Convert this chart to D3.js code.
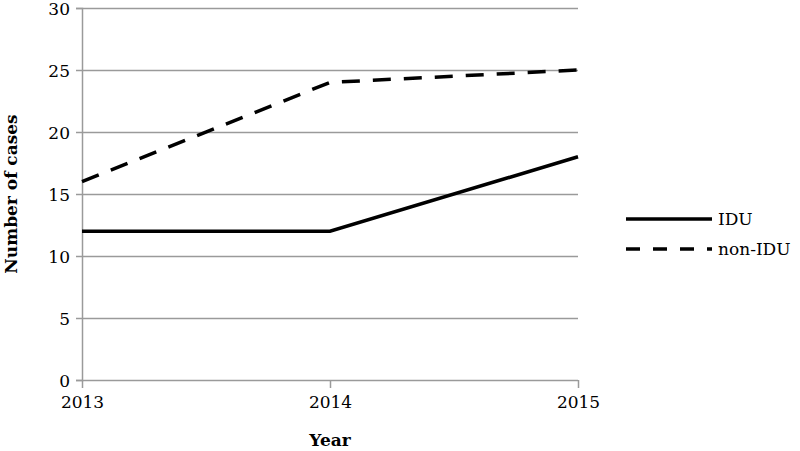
<!DOCTYPE html>
<html>
<head>
<meta charset="utf-8">
<script src="https://cdn.jsdelivr.net/npm/d3@7"></script>
<style>
  body { margin: 0; background: #fff; }
  svg { display: block; font-family: "DejaVu Serif", "DejaVu Serif Book", "Liberation Serif", "Times New Roman", Tinos, "Noto Serif", Georgia, serif; }
</style>
</head>
<body>
<div id="chart"></div>
<script>
var years = [2013, 2014, 2015];
var idu = [12, 12, 18];
var nonIdu = [16, 24, 25];
var yTicks = [0, 5, 10, 15, 20, 25, 30];

var width = 800, height = 451;
var margin = { top: 8, right: 222, bottom: 71, left: 82 };
var w = width - margin.left - margin.right,
  h = height - margin.top - margin.bottom;
var serif = '"DejaVu Serif", "DejaVu Serif Book", "Liberation Serif", "Times New Roman", Tinos, "Noto Serif", Georgia, serif';

var svg = d3
  .select("#chart")
  .append("svg")
  .attr("width", width)
  .attr("height", height);

var g = svg.append("g").attr("transform", `translate(${margin.left},${margin.top})`);

var x = d3.scaleLinear().domain([2013, 2015]).range([0, w]);
var y = d3.scaleLinear().domain([0, 30]).range([h, 0]);

var gridColor = "#9a9a9a";

// gridlines + y axis
var yAxis = g
  .append("g")
  .call(d3.axisLeft(y).tickValues(yTicks).tickSize(6).tickPadding(6));
yAxis.attr("font-family", serif).attr("font-size", 17);
yAxis.select(".domain").attr("stroke", gridColor).attr("stroke-width", 1.5);
yAxis.selectAll(".tick line").attr("stroke", gridColor).attr("stroke-width", 1.5);
yAxis.selectAll(".tick text").attr("fill", "#000").attr("dy", "0.36em");
yAxis
  .selectAll(".tick")
  .append("line")
  .attr("x2", w)
  .attr("stroke", gridColor)
  .attr("stroke-width", 1.5);

var xAxis = g
  .append("g")
  .attr("transform", `translate(0,${h})`)
  .call(d3.axisBottom(x).tickValues(years).tickFormat(d3.format("d")).tickSize(8).tickPadding(8));
xAxis.attr("font-family", serif).attr("font-size", 17);
xAxis.select(".domain").remove();
xAxis.selectAll(".tick line").attr("stroke", gridColor).attr("stroke-width", 1.5);
xAxis.selectAll(".tick text").attr("fill", "#000");

var line = d3
  .line()
  .x((d, i) => x(years[i]))
  .y((d) => y(d));

g.append("path")
  .attr("d", line(idu))
  .attr("fill", "none")
  .attr("stroke", "#000")
  .attr("stroke-width", 3.5);

g.append("path")
  .attr("d", line(nonIdu))
  .attr("fill", "none")
  .attr("stroke", "#000")
  .attr("stroke-width", 3.5)
  .attr("stroke-dasharray", "18,13");

// axis titles
svg
  .append("text")
  .attr("transform", `translate(17,${margin.top + h / 2}) rotate(-90)`)
  .attr("text-anchor", "middle")
  .attr("font-size", 17)
  .attr("font-weight", "bold")
  .text("Number of cases");

svg
  .append("text")
  .attr("x", margin.left + w / 2)
  .attr("y", 446)
  .attr("text-anchor", "middle")
  .attr("font-size", 17)
  .attr("font-weight", "bold")
  .text("Year");

// legend
var legend = [
  { name: "IDU", dash: null },
  { name: "non-IDU", dash: "14,13" },
];
var lg = svg.append("g").attr("transform", "translate(626,219)");
legend.forEach((d, i) => {
  lg.append("line")
    .attr("x1", 0)
    .attr("x2", 86)
    .attr("y1", i * 30)
    .attr("y2", i * 30)
    .attr("stroke", "#000")
    .attr("stroke-width", 3.5)
    .attr("stroke-dasharray", d.dash);
  lg.append("text")
    .attr("x", 92)
    .attr("y", i * 30 + 6)
    .attr("font-size", 17)
    .text(d.name);
});
</script>
</body>
</html>
